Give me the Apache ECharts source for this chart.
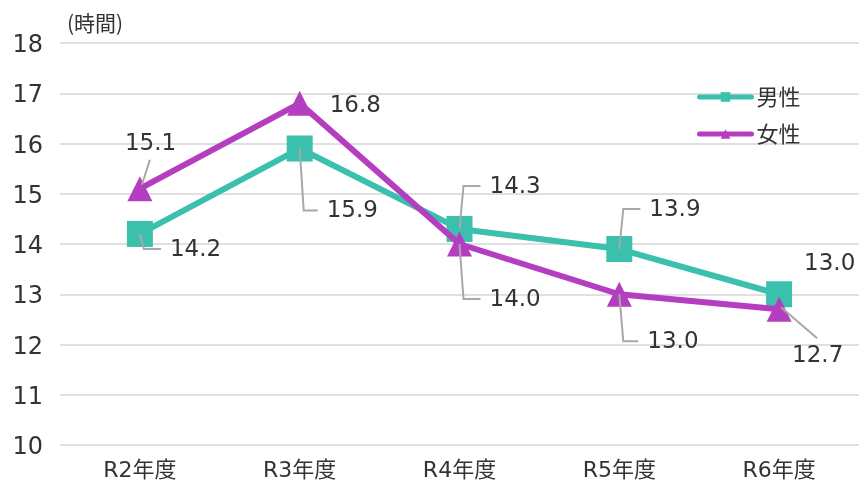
<!DOCTYPE html>
<html><head><meta charset="utf-8">
<script src="https://cdn.jsdelivr.net/npm/echarts@6/dist/echarts.min.js"></script>
<style>html,body{margin:0;padding:0;background:#fff}#c{width:859px;height:484px}</style>
</head><body><div id="c"></div>
<script>
const categories = ['R2年度','R3年度','R4年度','R5年度','R6年度'];
const maleValues = [14.2, 15.9, 14.3, 13.9, 13.0];
const femaleValues = [15.1, 16.8, 14.0, 13.0, 12.7];
const yTicks = [10, 11, 12, 13, 14, 15, 16, 17, 18];

// label placement (text left edge / centre y relative to the point, px) and leader type
const maleLabelPos = [[30,15],[27,62],[30,-43],[30,-40],[25,-31]];
const femaleLabelPos = [[-15,-46],[30,2],[30,55],[28,47],[13,46]];
const maleLeader = ['e','e','e','e',''];
const femaleLeader = ['s','','e','e','s'];

const numFont = '"DejaVu Sans", "Noto Sans CJK JP", sans-serif';
const cjkFont = '"Noto Sans CJK JP", "Noto Sans", sans-serif';
const labelSize = 23;
const leaderColor = '#a8a8a8';

const chart = echarts.init(document.getElementById('c'));

function labelRenderer(pos, leader){
  return function(params, api){
    const i = params.dataIndex;
    const v = api.value(1);
    const p = api.coord([api.value(0), v]);
    const lx = p[0] + pos[i][0], ly = p[1] + pos[i][1];
    const children = [];
    const t = leader[i];
    let pts = null;
    if (t === 'e') {
      pts = [[p[0], p[1]], [p[0] + 4, ly], [lx - 9, ly]];
    } else if (t === 's') {
      const ex = lx + 25;
      const ey = ly + (ly < p[1] ? 17 : -17);
      pts = [[p[0] + (ex > p[0] ? 1 : -1) * 2, p[1] + (ey < p[1] ? -4 : -2)], [ex, ey]];
    }
    if (pts) children.push({type:'polyline', shape:{points:pts},
      style:{stroke:leaderColor, lineWidth:2, fill:null}});
    children.push({type:'text', x:lx, y:ly + 1, style:{text:v.toFixed(1), fill:'#333',
      font:labelSize + 'px ' + numFont, textAlign:'left', textVerticalAlign:'middle'}});
    return {type:'group', children};
  };
}

chart.setOption({
  animation:false,
  textStyle:{fontFamily:cjkFont},
  title:{text:'(時間)',left:62,top:8,textStyle:{fontSize:21,fontWeight:'normal',color:'#333',fontFamily:cjkFont}},
  legend:{
    orient:'vertical', left:692, top:81, itemGap:15, itemWidth:52, itemHeight:12,
    lineStyle:{width:5, cap:'round'},
    textStyle:{fontSize:22,color:'#333',fontFamily:cjkFont},
    data:['男性','女性']
  },
  grid:{left:60,right:0,top:43,bottom:39,containLabel:false},
  xAxis:{
    type:'category', data:categories, boundaryGap:true,
    axisLine:{show:false}, axisTick:{show:false},
    axisLabel:{fontSize:22,color:'#333',margin:15,fontFamily:numFont}
  },
  yAxis:{
    type:'value', min:yTicks[0], max:yTicks[yTicks.length-1], interval:1,
    axisLine:{show:false}, axisTick:{show:false},
    axisLabel:{fontSize:24,color:'#333',margin:17,fontFamily:numFont,
      formatter:'{a|{value}}', rich:{a:{fontSize:24,color:'#333',fontFamily:numFont,padding:[6,0,0,0]}}},
    splitLine:{lineStyle:{color:'#e0e0e0',width:2}}
  },
  series:[
    {
      name:'男性', type:'line', data:maleValues,
      symbol:'rect', symbolSize:26,
      lineStyle:{color:'#3cc0ae',width:6}, itemStyle:{color:'#3cc0ae'}, z:2
    },
    {
      name:'女性', type:'line', data:femaleValues,
      symbol:'triangle', symbolSize:25,
      lineStyle:{color:'#b43dc0',width:6}, itemStyle:{color:'#b43dc0'}, z:3
    },
    {
      name:'男性ラベル', type:'custom', coordinateSystem:'cartesian2d',
      data:maleValues.map((v,i)=>[i,v]), renderItem:labelRenderer(maleLabelPos, maleLeader),
      z:5, silent:true
    },
    {
      name:'女性ラベル', type:'custom', coordinateSystem:'cartesian2d',
      data:femaleValues.map((v,i)=>[i,v]), renderItem:labelRenderer(femaleLabelPos, femaleLeader),
      z:5, silent:true
    }
  ]
});
</script></body></html>
